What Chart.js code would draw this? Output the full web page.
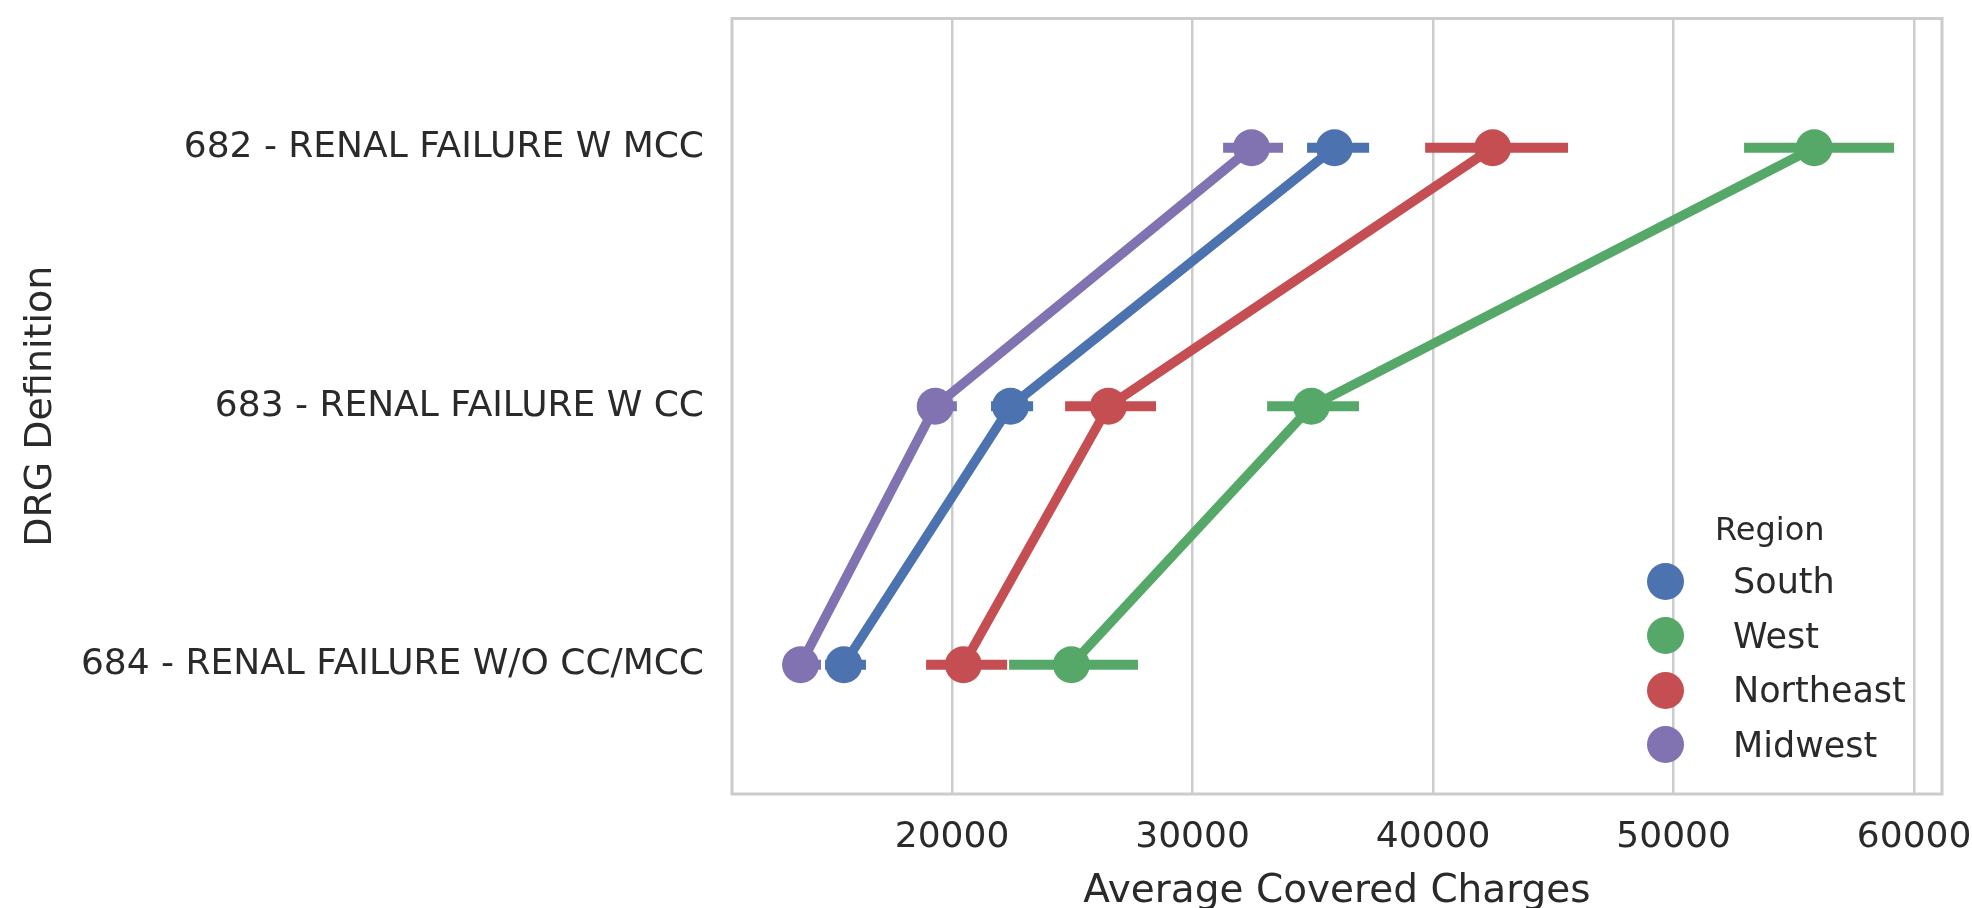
<!DOCTYPE html>
<html>
<head>
<meta charset="utf-8">
<title>Average Covered Charges by DRG and Region</title>
<script src="https://cdn.jsdelivr.net/npm/chart.js@4.4.0/dist/chart.umd.min.js"></script>
<style>
    body { margin: 0; background: #ffffff; }
    #wrap { position: relative; width: 1972px; height: 908px; overflow: hidden; }
    #legend { position: absolute; left: 0; top: 0; font-family: 'DejaVu Sans', sans-serif; color: #2a2a2a; }
    .lg-title { position: absolute; font-size: 32px; line-height: 40px; white-space: nowrap; }
    .lg-row { position: absolute; height: 54px; line-height: 54px; font-size: 35px; white-space: nowrap; }
    .lg-dot { position: absolute; width: 37px; height: 37px; border-radius: 50%; }
</style>
</head>
<body>
<div id="wrap">
    <canvas id="drgChart" width="1972" height="908"></canvas>
    <div id="legend"></div>
</div>
<script>
// categories (top to bottom)
const categories = [
    '682 - RENAL FAILURE W MCC',
    '683 - RENAL FAILURE W CC',
    '684 - RENAL FAILURE W/O CC/MCC'
];
const regions = ['South', 'West', 'Northeast', 'Midwest'];
const regionColors = ['#4C72B0', '#55A868', '#C44E52', '#8172B2'];

// mean charges per category, one array per region
const southMean = [35900, 22430, 15500];
const westMean = [55850, 34940, 24960];
const northeastMean = [42480, 26500, 20470];
const midwestMean = [32450, 19300, 13700];

// confidence interval ends
const southLow = [34760, 21620, 14720];
const southHigh = [37340, 23370, 16420];
const westLow = [52930, 33100, 22370];
const westHigh = [59170, 36920, 27730];
const northeastLow = [39670, 24700, 18920];
const northeastHigh = [45610, 28480, 22290];
const midwestLow = [31270, 18670, 13000];
const midwestHigh = [33760, 20200, 14550];

const xTicks = [20000, 30000, 40000, 50000, 60000];
const xMin = 10850;
const xMax = 61160;

const means = [southMean, westMean, northeastMean, midwestMean];
const lows = [southLow, westLow, northeastLow, midwestLow];
const highs = [southHigh, westHigh, northeastHigh, midwestHigh];

const textColor = '#2a2a2a';
const gridColor = '#cccccc';
Chart.defaults.font.family = "'DejaVu Sans', sans-serif";
Chart.defaults.color = textColor;

// build datasets: error bars first, then the point line for each region
const datasets = [];
regions.forEach(function (region, i) {
    const base = (regions.length - i) * 10;   // later hues drawn on top
    categories.forEach(function (cat, j) {
        datasets.push({
            label: region + ' ci ' + j,
            data: [{ x: lows[i][j], y: cat }, { x: highs[i][j], y: cat }],
            borderColor: regionColors[i],
            borderWidth: 10,
            borderCapStyle: 'butt',
            pointRadius: 0,
            order: base + 1
        });
    });
    datasets.push({
        label: region,
        data: categories.map(function (cat, j) { return { x: means[i][j], y: cat }; }),
        borderColor: regionColors[i],
        backgroundColor: regionColors[i],
        borderWidth: 9.5,
        pointRadius: 18.5,
        pointBackgroundColor: regionColors[i],
        pointBorderWidth: 0,
        tension: 0,
        order: base
    });
});

// light grey frame round the plot area
const frame = {
    id: 'frame',
    beforeDatasetsDraw(chart) {
        const a = chart.chartArea;
        const ctx = chart.ctx;
        ctx.save();
        ctx.strokeStyle = gridColor;
        ctx.lineWidth = 3;
        ctx.strokeRect(a.left, a.top, a.right - a.left, a.bottom - a.top);
        ctx.restore();
    }
};

const ctx = document.getElementById('drgChart').getContext('2d');
const drgChart = new Chart(ctx, {
    type: 'line',
    data: { labels: categories, datasets: datasets },
    options: {
        indexAxis: 'y',
        responsive: false,
        animation: false,
        devicePixelRatio: 1,
        layout: { padding: { top: 7, right: 30, bottom: 0, left: 0 } },
        plugins: {
            legend: { display: false },
            tooltip: { enabled: false }
        },
        scales: {
            x: {
                type: 'linear',
                min: xMin,
                max: xMax,
                afterBuildTicks: function (scale) {
                    scale.ticks = xTicks.map(function (v) { return { value: v }; });
                },
                afterFit: function (scale) {
                    scale.height = 114;
                    scale.paddingLeft = 0;
                    scale.paddingRight = 0;
                },
                grid: { color: gridColor, lineWidth: 2.5, drawTicks: false },
                border: { display: false },
                ticks: {
                    font: { size: 36 },
                    color: textColor,
                    padding: 22,
                    maxRotation: 0,
                    callback: function (v) { return String(v); }
                },
                title: {
                    display: true,
                    text: 'Average Covered Charges',
                    font: { size: 39, lineHeight: 1 },
                    color: textColor,
                    padding: { top: 0, bottom: -3 }
                }
            },
            y: {
                type: 'category',
                labels: categories,
                offset: true,
                afterFit: function (scale) {
                    scale.width = 732;
                    scale.paddingTop = 0;
                    scale.paddingBottom = 0;
                },
                grid: { display: false, drawTicks: false },
                border: { display: false },
                ticks: { font: { size: 36 }, color: textColor, padding: 28 },
                title: {
                    display: true,
                    text: 'DRG Definition',
                    font: { size: 38, lineHeight: 1 },
                    color: textColor,
                    padding: { top: 22, bottom: 0 }
                }
            }
        }
    },
    plugins: [frame]
});

// legend in the lower right of the plot
const legend = document.getElementById('legend');
const title = document.createElement('div');
title.className = 'lg-title';
title.textContent = 'Region';
title.style.left = '1715px';
title.style.top = '509px';
legend.appendChild(title);
regions.forEach(function (region, i) {
    const cy = 581 + i * 54.5;
    const dot = document.createElement('div');
    dot.className = 'lg-dot';
    dot.style.background = regionColors[i];
    dot.style.left = (1665 - 18.5) + 'px';
    dot.style.top = (cy - 18.5) + 'px';
    legend.appendChild(dot);
    const row = document.createElement('div');
    row.className = 'lg-row';
    row.textContent = region;
    row.style.left = '1733px';
    row.style.top = (cy - 27) + 'px';
    legend.appendChild(row);
});
</script>
</body>
</html>
